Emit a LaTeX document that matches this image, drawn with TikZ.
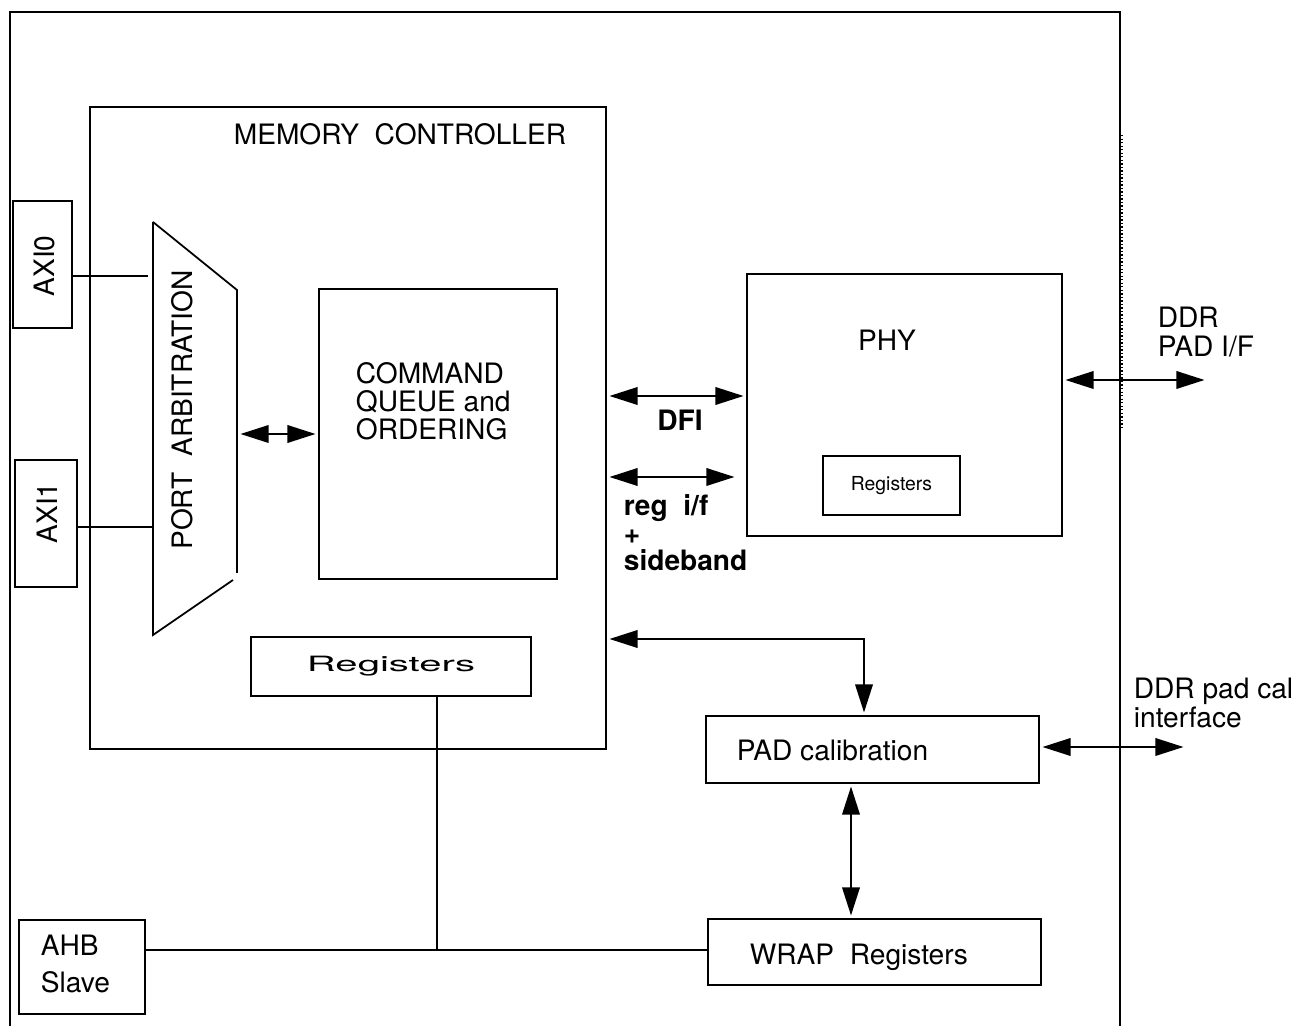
\documentclass[tikz,border=0pt]{standalone}
\usepackage{fontspec}
\setmainfont{TeX Gyre Heros}
\usepackage{tikz}
\usetikzlibrary{arrows.meta,positioning,calc}

\tikzset{
  blk/.style={rectangle, draw, line width=1pt, inner sep=0pt, outer sep=0pt},
  txt/.style={font=\fontsize{16}{16}\selectfont, inner sep=0pt, align=left},
  btxt/.style={font=\fontsize{16}{15.6}\selectfont\bfseries, inner sep=0pt, align=left},
  smtxt/.style={font=\fontsize{11}{12}\selectfont},
  dbl/.style={line width=1pt, {Triangle[length=16pt,width=10pt]}-{Triangle[length=16pt,width=10pt]},
              shorten <=2pt, shorten >=2pt},
}

\begin{document}
\begin{tikzpicture}[x=0.02cm, y=-0.02cm, line width=1pt]
  \useasboundingbox (0,0) rectangle (1302,1026);

  % outer chip boundary (open at the bottom)
  \draw (10,1026) -- (10,12) -- (1120,12) -- (1120,1026);
  \draw[line width=0.8pt, dash pattern=on 0.8pt off 1.2pt] (1122,135) -- (1122,430);

  % memory controller
  \node[blk, minimum width=10.32cm, minimum height=12.84cm] (mc) at (348,428) {};
  \node[txt] (mctitle) at (400,134) {MEMORY\ \ CONTROLLER};

  \node[blk, minimum width=1.18cm, minimum height=2.54cm] (axi0) at (42.5,264.5) {};
  \node[txt, rotate=90] (axi0t) at (44,266) {AXI0};
  \node[blk, minimum width=1.24cm, minimum height=2.54cm] (axi1) at (46,523.5) {};
  \node[txt, rotate=90] (axi1t) at (47,513) {AXI1};

  % port arbitration mux
  \coordinate (arbtl) at (153,222);
  \coordinate (arbtr) at (237,290);
  \coordinate (arbbr) at (237,573);
  \coordinate (arbbl) at (153,635);
  \draw (arbtl) -- (arbtr) -- (arbbr);
  \draw (arbtl) -- (arbbl) -- (233,580);
  \node[txt, rotate=90] (arb) at (182,410) {PORT\ \ ARBITRATION};
  \coordinate (arbout) at (237,434);

  \node[blk, minimum width=4.76cm, minimum height=5.8cm] (cmd) at (438,434) {};
  \node[txt, anchor=west] (cmdt) at (355,401) {COMMAND\\QUEUE and\\ORDERING};

  \node[blk, minimum width=5.6cm, minimum height=1.18cm, font=\fontsize{12}{12}\selectfont] (mreg) at (391,666.5)
    {\scalebox{1.9}[1]{Registers}};

  \draw (axi0.east |- 0,276) -- (148,276);
  \draw (axi1.east |- 0,527) -- (arbtl |- 0,527);
  \draw[dbl] (arbout) -- (arbout -| cmd.west);

  % phy
  \node[blk, minimum width=6.3cm, minimum height=5.24cm] (phy) at (904.5,405) {};
  \node[txt] (phyt) at (887,340) {PHY};
  \node[blk, minimum width=2.74cm, minimum height=1.18cm, smtxt] (preg) at (891.5,485.5) {Registers};

  \draw[dbl] (mc.east |- 0,396) -- (phy.west |- 0,396);
  \node[btxt] (dfi) at (680,420) {DFI};
  \draw[dbl] (mc.east |- 0,477) -- (738,477);
  \node[btxt, anchor=west] (regif) at (623,533) {reg\ \ i/f\\+\\sideband};

  \coordinate (padif) at (1208,380);
  \draw[dbl] (phy.east |- padif) -- (padif);
  \node[txt, anchor=west] (padift) at (1157,332) {DDR\\PAD I/F};

  % pad calibration
  \node[blk, minimum width=6.66cm, minimum height=1.34cm] (pad) at (872.5,749.5) {};
  \node[txt, anchor=west] (padt) at (736,750) {PAD calibration};
  \draw[dbl] (mc.east |- 0,639) -| (pad.north -| 864,0);

  \coordinate (calif) at (1187,747);
  \node[txt, anchor=west, font=\fontsize{16}{17}\selectfont] (calift) at (1133,703) {DDR pad cal\\interface};
  \draw[dbl] (pad.east |- calif) -- (calif);

  \node[blk, minimum width=6.66cm, minimum height=1.32cm] (wrap) at (874.5,952) {};
  \node[txt, anchor=west] (wrapt) at (749,957) {WRAP\ \ Registers};
  \draw[dbl] (pad.south -| 851,0) -- (wrap.north -| 851,0);

  % ahb slave
  \node[blk, minimum width=2.52cm, minimum height=1.88cm] (ahb) at (82,967) {};
  \node[txt, anchor=west, font=\fontsize{16}{21.5}\selectfont] (ahbt) at (40,964) {AHB\\Slave};
  \coordinate (ahbj) at (437,950);
  \draw (ahb.east |- ahbj) -- (wrap.west |- ahbj);
  \draw (mreg.south -| ahbj) -- (ahbj);
\end{tikzpicture}
\end{document}
